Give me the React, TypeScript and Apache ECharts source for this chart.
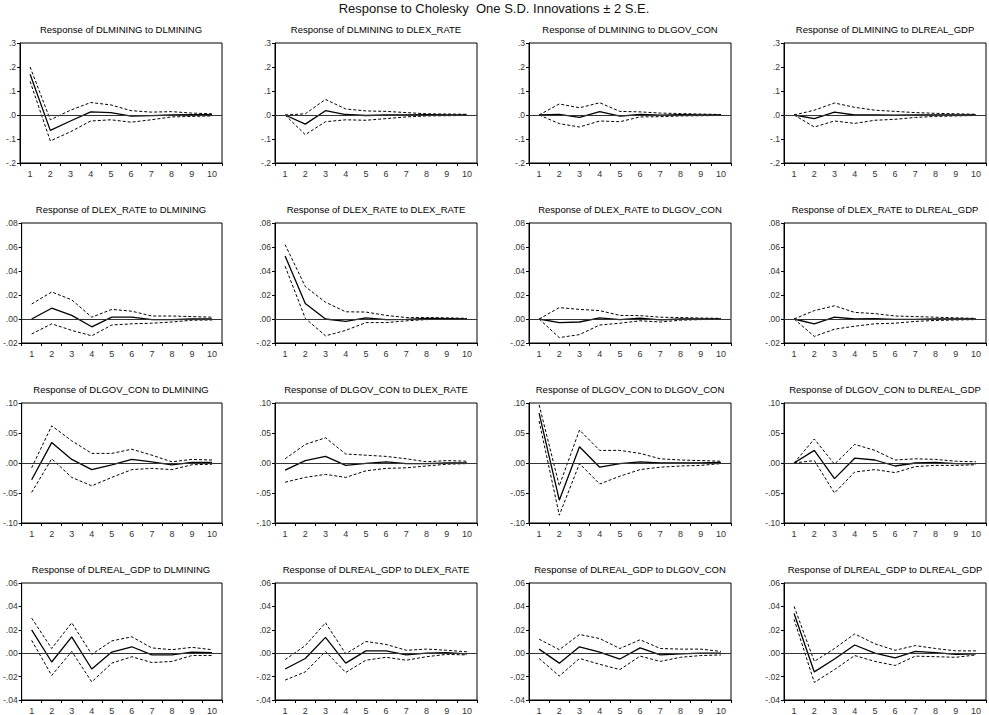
import React, { useEffect, useRef } from "react";
import * as echarts from "echarts";

const periods = ["1", "2", "3", "4", "5", "6", "7", "8", "9", "10"];
const variables = ["DLMINING", "DLEX_RATE", "DLGOV_CON", "DLREAL_GDP"];
const mainTitle = "Response to Cholesky  One S.D. Innovations \u00b1 2 S.E.";

const yMin = [-0.2, -0.02, -0.1, -0.04];
const yMax = [0.3, 0.08, 0.1, 0.06];
const yStep = [0.1, 0.02, 0.05, 0.02];
const yDecimals = [1, 2, 2, 2];

// Row 1: response of DLMINING
const irf_MIN_MIN = [0.17, -0.064, -0.025, 0.013, 0.01, -0.005, -0.003, 0.0, 0.001, 0.001];
const up_MIN_MIN = [0.2, -0.02, 0.02, 0.052, 0.042, 0.018, 0.012, 0.014, 0.008, 0.005];
const lo_MIN_MIN = [0.14, -0.108, -0.07, -0.025, -0.02, -0.03, -0.02, -0.008, -0.006, -0.004];

const irf_MIN_EX = [0.0, -0.038, 0.018, 0.002, -0.002, 0.0, 0.0, 0.001, 0.0, 0.0];
const up_MIN_EX = [0.0, 0.005, 0.065, 0.025, 0.017, 0.015, 0.01, 0.005, 0.004, 0.003];
const lo_MIN_EX = [0.0, -0.082, -0.028, -0.02, -0.022, -0.015, -0.008, -0.004, -0.003, -0.002];

const irf_MIN_GOV = [0.0, 0.003, -0.01, 0.014, -0.005, 0.002, -0.001, 0.001, 0.0, 0.0];
const up_MIN_GOV = [0.0, 0.046, 0.03, 0.051, 0.015, 0.013, 0.008, 0.006, 0.004, 0.002];
const lo_MIN_GOV = [0.0, -0.036, -0.05, -0.025, -0.028, -0.008, -0.007, -0.004, -0.003, -0.002];

const irf_MIN_GDP = [0.0, -0.015, 0.012, 0.0, 0.0, -0.001, 0.0, 0.0, 0.0, 0.0];
const up_MIN_GDP = [0.0, 0.02, 0.05, 0.032, 0.02, 0.015, 0.01, 0.007, 0.005, 0.003];
const lo_MIN_GDP = [0.0, -0.05, -0.025, -0.035, -0.022, -0.018, -0.01, -0.006, -0.004, -0.002];

// Row 2: response of DLEX_RATE
const irf_EX_MIN = [0.0, 0.009, 0.003, -0.0065, 0.0015, 0.0015, -0.0005, -0.0005, 0.0, 0.0];
const up_EX_MIN = [0.0125, 0.0225, 0.016, 0.0015, 0.008, 0.0065, 0.0025, 0.0025, 0.002, 0.0015];
const lo_EX_MIN = [-0.0125, -0.004, -0.0095, -0.014, -0.005, -0.004, -0.0035, -0.0025, -0.001, -0.0008];

const irf_EX_EX = [0.0525, 0.013, 0.0, -0.002, 0.001, -0.0005, -0.0003, 0.0005, 0.0003, 0.0];
const up_EX_EX = [0.062, 0.027, 0.014, 0.006, 0.0058, 0.003, 0.0012, 0.0012, 0.001, 0.0005];
const lo_EX_EX = [0.044, 0.0005, -0.014, -0.0095, -0.003, -0.003, -0.0015, -0.0005, -0.0003, -0.0002];

const irf_EX_GOV = [0.0, -0.003, -0.0025, 0.001, -0.0005, 0.0008, -0.0008, 0.0, 0.0, 0.0];
const up_EX_GOV = [0.0, 0.0095, 0.008, 0.007, 0.003, 0.0028, 0.0015, 0.0012, 0.0008, 0.0005];
const lo_EX_GOV = [0.0, -0.0155, -0.013, -0.005, -0.0035, -0.0015, -0.0025, -0.001, -0.0005, -0.0003];

const irf_EX_GDP = [0.0, -0.004, 0.0015, 0.0, 0.0003, -0.0003, -0.0003, 0.0, 0.0, 0.0];
const up_EX_GDP = [0.0, 0.007, 0.011, 0.0055, 0.0045, 0.0025, 0.002, 0.0015, 0.001, 0.0005];
const lo_EX_GDP = [0.0, -0.0145, -0.0085, -0.006, -0.004, -0.0035, -0.002, -0.0012, -0.0008, -0.0005];

// Row 3: response of DLGOV_CON
const irf_GOV_MIN = [-0.028, 0.034, 0.006, -0.011, -0.003, 0.006, 0.002, -0.003, 0.001, 0.001];
const up_GOV_MIN = [-0.008, 0.062, 0.037, 0.016, 0.016, 0.023, 0.013, 0.002, 0.006, 0.005];
const lo_GOV_MIN = [-0.049, 0.007, -0.024, -0.038, -0.024, -0.011, -0.009, -0.011, -0.003, -0.002];

const irf_GOV_EX = [-0.012, 0.004, 0.011, -0.004, -0.0005, 0.002, -0.001, -0.001, 0.0, 0.0];
const up_GOV_EX = [0.007, 0.031, 0.042, 0.015, 0.013, 0.011, 0.007, 0.002, 0.004, 0.003];
const lo_GOV_EX = [-0.032, -0.024, -0.019, -0.024, -0.013, -0.009, -0.008, -0.005, -0.002, -0.001];

const irf_GOV_GOV = [0.083, -0.062, 0.027, -0.007, -0.001, 0.002, 0.0, 0.0, 0.0, 0.001];
const up_GOV_GOV = [0.097, -0.038, 0.055, 0.021, 0.021, 0.016, 0.007, 0.005, 0.004, 0.003];
const lo_GOV_GOV = [0.07, -0.087, -0.001, -0.035, -0.022, -0.011, -0.007, -0.005, -0.004, -0.001];

const irf_GOV_GDP = [0.0, 0.021, -0.026, 0.008, 0.005, -0.005, 0.0, 0.001, -0.001, -0.001];
const up_GOV_GDP = [0.0, 0.04, -0.002, 0.031, 0.021, 0.005, 0.007, 0.006, 0.003, 0.002];
const lo_GOV_GDP = [0.0, 0.004, -0.05, -0.015, -0.011, -0.016, -0.006, -0.004, -0.004, -0.003];

// Row 4: response of DLREAL_GDP
const irf_GDP_MIN = [0.02, -0.0075, 0.014, -0.0135, 0.001, 0.0055, -0.0015, -0.0015, 0.001, 0.0005];
const up_GDP_MIN = [0.03, 0.004, 0.026, -0.001, 0.0105, 0.014, 0.0045, 0.003, 0.005, 0.003];
const lo_GDP_MIN = [0.011, -0.019, 0.0015, -0.0245, -0.0085, -0.003, -0.008, -0.007, -0.002, -0.002];

const irf_GDP_EX = [-0.0135, -0.0045, 0.0135, -0.0085, 0.002, 0.002, -0.0015, 0.0, 0.0005, -0.0005];
const up_GDP_EX = [-0.0055, 0.0065, 0.026, -0.0005, 0.01, 0.0075, 0.0025, 0.0035, 0.0025, 0.0012];
const lo_GDP_EX = [-0.023, -0.016, 0.0015, -0.0165, -0.006, -0.0035, -0.006, -0.003, -0.001, -0.0015];

const irf_GDP_GOV = [0.0035, -0.0085, 0.0055, 0.001, -0.005, 0.0045, -0.0015, -0.0005, 0.0, 0.0];
const up_GDP_GOV = [0.012, 0.003, 0.016, 0.0125, 0.004, 0.0115, 0.004, 0.0035, 0.0035, 0.0015];
const lo_GDP_GOV = [-0.0045, -0.0195, -0.0045, -0.0095, -0.014, -0.0025, -0.007, -0.0035, -0.002, -0.0015];

const irf_GDP_GDP = [0.034, -0.016, -0.005, 0.007, 0.0, -0.004, 0.0015, 0.0005, -0.001, -0.0005];
const up_GDP_GDP = [0.04, -0.007, 0.004, 0.0165, 0.008, 0.0025, 0.0065, 0.004, 0.002, 0.002];
const lo_GDP_GDP = [0.029, -0.025, -0.014, -0.002, -0.007, -0.0105, -0.0025, -0.003, -0.0035, -0.0015];

const irfTable = [
  [irf_MIN_MIN, irf_MIN_EX, irf_MIN_GOV, irf_MIN_GDP],
  [irf_EX_MIN, irf_EX_EX, irf_EX_GOV, irf_EX_GDP],
  [irf_GOV_MIN, irf_GOV_EX, irf_GOV_GOV, irf_GOV_GDP],
  [irf_GDP_MIN, irf_GDP_EX, irf_GDP_GOV, irf_GDP_GDP],
];
const upTable = [
  [up_MIN_MIN, up_MIN_EX, up_MIN_GOV, up_MIN_GDP],
  [up_EX_MIN, up_EX_EX, up_EX_GOV, up_EX_GDP],
  [up_GOV_MIN, up_GOV_EX, up_GOV_GOV, up_GOV_GDP],
  [up_GDP_MIN, up_GDP_EX, up_GDP_GOV, up_GDP_GDP],
];
const loTable = [
  [lo_MIN_MIN, lo_MIN_EX, lo_MIN_GOV, lo_MIN_GDP],
  [lo_EX_MIN, lo_EX_EX, lo_EX_GOV, lo_EX_GDP],
  [lo_GOV_MIN, lo_GOV_EX, lo_GOV_GOV, lo_GOV_GDP],
  [lo_GDP_MIN, lo_GDP_EX, lo_GDP_GOV, lo_GDP_GDP],
];

const FONT = "'Liberation Sans', Arial, sans-serif";
const gridLefts = [20, 275, 529, 784];
const gridTops = [43, 223, 403, 583];
const gridW = 202;
const gridH = 120;

function fmt(v: number, d: number): string {
  let s = v.toFixed(d);
  if (s.startsWith("-0")) s = "-" + s.slice(2);
  else if (s.startsWith("0")) s = s.slice(1);
  if (s === "-.0" || s === "-.00") s = s.slice(1);
  return s;
}

export default function App() {
  const ref = useRef<HTMLDivElement>(null);
  useEffect(() => {
    if (!ref.current) return;
    const chart = echarts.init(ref.current, undefined, { renderer: "svg" });
    const grid: any[] = [];
    const xAxis: any[] = [];
    const yAxis: any[] = [];
    const series: any[] = [];
    const graphics: any[] = [
      {
        type: "text",
        x: 494,
        y: 8,
        style: {
          text: mainTitle,
          textAlign: "center",
          textVerticalAlign: "middle",
          fontSize: 13,
          fontFamily: FONT,
          fill: "#111",
        },
      },
    ];
    let idx = 0;
    for (let r = 0; r < 4; r++) {
      for (let c = 0; c < 4; c++) {
        grid.push({
          left: gridLefts[c],
          top: gridTops[r],
          width: gridW,
          height: gridH,
          show: true,
          borderColor: "#000",
          borderWidth: 1,
          backgroundColor: "#fff",
        });
        xAxis.push({
          type: "category",
          gridIndex: idx,
          data: periods,
          boundaryGap: true,
          axisLine: { onZero: false, lineStyle: { color: "#000", width: 1 } },
          axisTick: { show: true, length: 3, lineStyle: { color: "#000" } },
          axisLabel: { fontSize: 9, color: "#333", fontFamily: FONT, margin: 6 },
          splitLine: { show: false },
        });
        yAxis.push({
          type: "value",
          gridIndex: idx,
          min: yMin[r],
          max: yMax[r],
          interval: yStep[r],
          axisLine: { show: true, lineStyle: { color: "#000", width: 1 } },
          axisTick: { show: true, length: 3, lineStyle: { color: "#000" } },
          axisLabel: {
            fontSize: 8.5,
            color: "#333",
            fontFamily: FONT,
            margin: 4,
            formatter: (v: number) => fmt(v, yDecimals[r]),
          },
          splitLine: { show: false },
        });
        const common = {
          type: "line",
          xAxisIndex: idx,
          yAxisIndex: idx,
          symbol: "none",
          silent: true,
        };
        series.push({
          ...common,
          data: irfTable[r][c],
          lineStyle: { color: "#000", width: 1.3, type: "solid" },
          z: 3,
          markLine: {
            silent: true,
            symbol: "none",
            label: { show: false },
            lineStyle: { color: "#333", width: 1.2, type: "solid" },
            data: [{ yAxis: 0 }],
          },
        });
        series.push({
          ...common,
          data: upTable[r][c],
          lineStyle: { color: "#000", width: 1, type: [3, 2] },
        });
        series.push({
          ...common,
          data: loTable[r][c],
          lineStyle: { color: "#000", width: 1, type: [3, 2] },
        });
        graphics.push({
          type: "text",
          x: gridLefts[c] + gridW / 2,
          y: gridTops[r] - 14,
          style: {
            text: `Response of ${variables[r]} to ${variables[c]}`,
            textAlign: "center",
            textVerticalAlign: "middle",
            fontSize: 9.5,
            fontFamily: FONT,
            fill: "#000",
          },
        });
        idx++;
      }
    }
    chart.setOption({
      animation: false,
      backgroundColor: "#fff",
      grid,
      xAxis,
      yAxis,
      series,
      graphic: graphics,
    });
    return () => chart.dispose();
  }, []);
  return (
    <div
      ref={ref}
      style={{ position: "fixed", left: 0, top: 0, width: 989, height: 715, background: "#fff" }}
    />
  );
}
